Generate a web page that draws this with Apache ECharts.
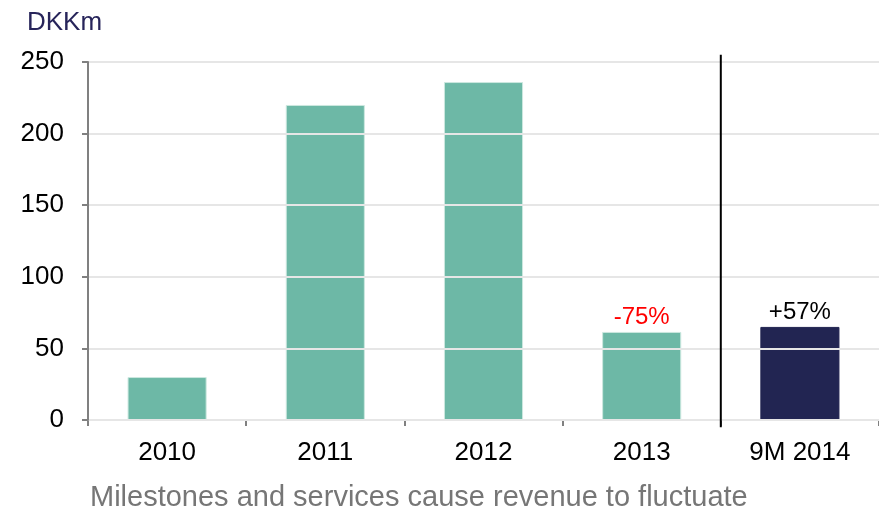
<!DOCTYPE html>
<html><head><meta charset="utf-8">
<script src="https://cdn.jsdelivr.net/npm/echarts@6/dist/echarts.min.js"></script>
<style>html,body{margin:0;padding:0;background:#fff}#c{width:879px;height:509px}</style>
</head><body><div id="c"></div>
<script>
const categories = ['2010', '2011', '2012', '2013', '9M 2014'];
const revenue = [30, 220, 236, 61.5, 65];
const barLabels = ['', '', '', '-75%', '+57%'];
const labelColors = ['#000', '#000', '#000', '#ff0000', '#000'];
const barColors = ['#6db8a6', '#6db8a6', '#6db8a6', '#6db8a6', '#222552'];
const yTicks = { min: 0, max: 250, interval: 50 };
const dividerAt = 3.5;          // between 2013 and 9M 2014
const dividerSpan = [-5, 255];  // vertical extent of divider in data units

const font = '"Liberation Sans", Arial, sans-serif';
const chart = echarts.init(document.getElementById('c'));
chart.setOption({
  animation: false,
  title: [
    { text: 'DKKm', left: 22, top: 5, textStyle: { fontFamily: font, fontSize: 26, fontWeight: 'normal', color: '#27245a' } },
    { text: 'Milestones and services cause revenue to fluctuate', left: 85, top: 478, textStyle: { fontFamily: font, fontSize: 29, fontWeight: 'normal', color: '#767676' } }
  ],
  grid: { left: 88, right: 0, top: 62, bottom: 89 },
  xAxis: [{
    type: 'category', data: categories,
    axisLine: { lineStyle: { color: '#808080', width: 2 } },
    axisTick: { show: true, length: 6, lineStyle: { color: '#808080', width: 2 } },
    axisLabel: { fontFamily: font, fontSize: 26, color: '#000', margin: 20 }
  }, {
    type: 'value', min: -0.5, max: categories.length - 0.5, show: false
  }],
  yAxis: {
    type: 'value', min: yTicks.min, max: yTicks.max, interval: yTicks.interval, z: 3,
    axisLine: { show: true, onZero: false, lineStyle: { color: '#808080', width: 2 } },
    axisTick: { show: true, length: 6, lineStyle: { color: '#808080', width: 2 } },
    axisLabel: { fontFamily: font, fontSize: 26, color: '#000', margin: 24 },
    splitLine: { lineStyle: { color: '#e6e6e6', width: 2 } }
  },
  series: [{
    type: 'bar', barWidth: '50%',
    data: revenue.map((v, i) => ({
      value: v,
      itemStyle: { color: barColors[i], borderColor: i < 4 ? '#cde8e0' : barColors[i], borderWidth: 1 },
      label: { show: barLabels[i] !== '', formatter: barLabels[i], color: labelColors[i] }
    })),
    label: { position: 'top', fontFamily: font, fontSize: 24, distance: 3 }
  }, {
    type: 'line', xAxisIndex: 1, clip: false, symbol: 'none', silent: true, z: 5,
    lineStyle: { color: '#000', width: 2 },
    data: dividerSpan.map(y => [dividerAt, y])
  }]
});
</script></body></html>
